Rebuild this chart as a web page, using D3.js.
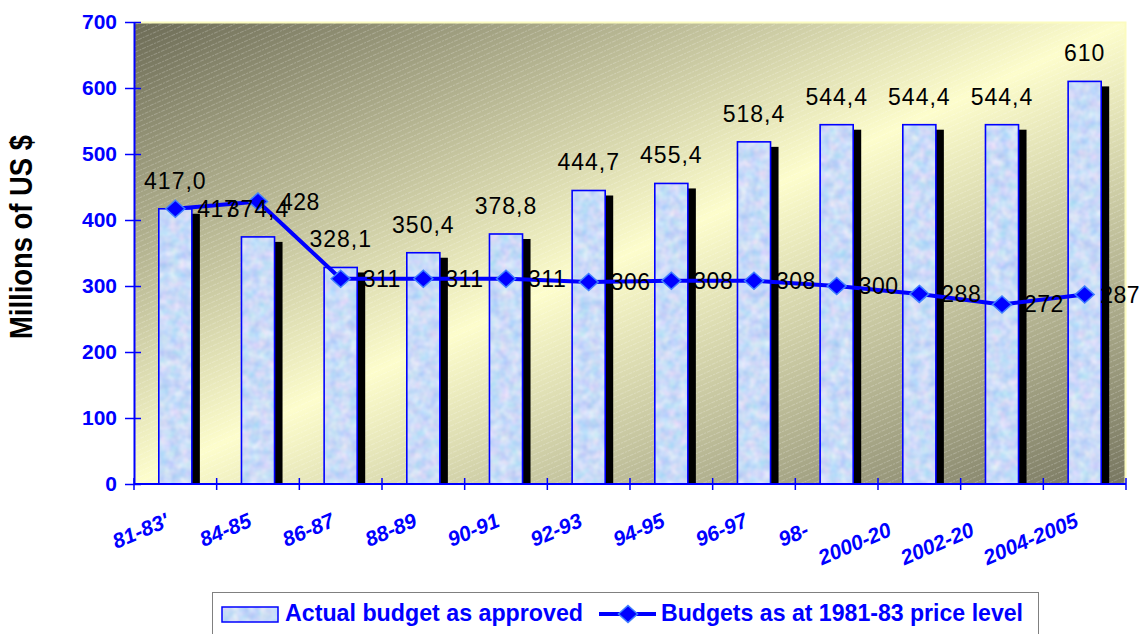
<!DOCTYPE html>
<html>
<head>
<meta charset="utf-8">
<title>Budget chart</title>
<script src="https://d3js.org/d3.v7.min.js"></script>
<style>
  html, body { margin:0; padding:0; background:#fff; overflow:hidden }
  text { font-family: "Liberation Sans", Arial, sans-serif; }
</style>
</head>
<body>
<div class="chart"></div>
<script>

// periods as in the source; the picture cuts some of them short
var periods = ["81-83'", "84-85", "86-87", "88-89", "90-91", "92-93", "94-95", "96-97", "98-99", "2000-2001", "2002-2003", "2004-2005"];
var periodText = ["81-83'", "84-85", "86-87", "88-89", "90-91", "92-93", "94-95", "96-97", "98-", "2000-20", "2002-20", "2004-2005"];

var approved = [417.0, 374.4, 328.1, 350.4, 378.8, 444.7, 455.4, 518.4, 544.4, 544.4, 544.4, 610];
var approvedText = ["417,0", "374,4", "328,1", "350,4", "378,8", "444,7", "455,4", "518,4", "544,4", "544,4", "544,4", "610"];
var constantPrice = [417, 428, 311, 311, 311, 306, 308, 308, 300, 288, 272, 287];

var yTicks = [0, 100, 200, 300, 400, 500, 600, 700];

var W = 1142, H = 634;
var BLUE = "#0000ff";

var svg = d3.select("div.chart").append("svg")
    .attr("width", W)
    .attr("height", H);

var x = d3.scaleBand().domain(periods).range([134, 1126]);
var y = d3.scaleLinear().domain([0, 700]).range([484, 22]);
var cx = function(p) { return x(p) + x.bandwidth() / 2; };
var barW = x.bandwidth() * 0.4;

var defs = svg.append("defs");

// wall: dark corners, light band from bottom-left to top-right
var wall = defs.append("linearGradient").attr("id", "wall")
    .attr("x1", 0).attr("y1", 0).attr("x2", 1).attr("y2", 1);
wall.append("stop").attr("offset", 0).attr("stop-color", "#6c6b56");
wall.append("stop").attr("offset", 0.5).attr("stop-color", "#fdfdcc");
wall.append("stop").attr("offset", 1).attr("stop-color", "#777660");

var hatch = defs.append("pattern").attr("id", "hatch")
    .attr("patternUnits", "userSpaceOnUse")
    .attr("width", 8).attr("height", 5)
    .attr("patternTransform", "rotate(-24)");
hatch.append("line")
    .attr("x1", 0).attr("y1", 2.5).attr("x2", 8).attr("y2", 2.5)
    .attr("stroke", "#fff").attr("stroke-opacity", 0.22)
    .attr("stroke-dasharray", "2 1");

// mottled light blue fill for the bars
var mottle = defs.append("filter").attr("id", "mottle")
    .attr("x", 0).attr("y", 0).attr("width", 1).attr("height", 1)
    .attr("color-interpolation-filters", "sRGB");
mottle.append("feTurbulence").attr("type", "fractalNoise")
    .attr("baseFrequency", 0.1).attr("numOctaves", 2).attr("seed", 4).attr("result", "n");
mottle.append("feColorMatrix").attr("in", "n").attr("type", "matrix")
    .attr("values", "0.32 0 0 0 0.63  0.12 0.14 0 0 0.73  0 0 0.06 0 0.94  0 0 0 0 1")
    .attr("result", "c");
mottle.append("feComposite").attr("in", "c").attr("in2", "SourceGraphic").attr("operator", "in");

function diamond(w, h) {
  return "M0," + (-h) + "L" + w + ",0L0," + h + "L" + (-w) + ",0Z";
}

// plot wall
svg.append("rect")
    .attr("x", 134).attr("y", 22)
    .attr("width", 1126 - 134).attr("height", 484 - 22)
    .attr("fill", "url(#wall)");
svg.append("rect")
    .attr("x", 134).attr("y", 22)
    .attr("width", 1126 - 134).attr("height", 484 - 22)
    .attr("fill", "url(#hatch)");
svg.append("path")
    .attr("d", "M134,22.5H1125.5V484")
    .attr("fill", "none").attr("stroke", "#fbfbc0").attr("stroke-width", 2);

// bars: black shadow, textured body, blue edge
var bars = svg.append("g").selectAll("g").data(periods).join("g");

bars.append("rect")
    .attr("x", function(p) { return cx(p) - barW / 2 + 8; })
    .attr("y", function(p, i) { return y(approved[i]) + 5; })
    .attr("width", barW)
    .attr("height", function(p, i) { return y(0) - y(approved[i]) - 5; })
    .attr("fill", "#000");

bars.append("rect")
    .attr("x", function(p) { return cx(p) - barW / 2; })
    .attr("y", function(p, i) { return y(approved[i]); })
    .attr("width", barW)
    .attr("height", function(p, i) { return y(0) - y(approved[i]); })
    .attr("fill", "#cfe0fa")
    .attr("filter", "url(#mottle)");

bars.append("rect")
    .attr("x", function(p) { return cx(p) - barW / 2; })
    .attr("y", function(p, i) { return y(approved[i]); })
    .attr("width", barW)
    .attr("height", function(p, i) { return y(0) - y(approved[i]); })
    .attr("fill", "none")
    .attr("stroke", BLUE).attr("stroke-width", 1.6);

// axes
var yAxis = svg.append("g")
    .attr("transform", "translate(134,0)")
    .call(d3.axisLeft(y).tickValues(yTicks).tickSizeInner(9).tickSizeOuter(0).tickPadding(8));
yAxis.select(".domain").attr("stroke", BLUE).attr("stroke-width", 2);
yAxis.selectAll(".tick line").attr("x1", 7).attr("stroke", BLUE).attr("stroke-width", 1.5);
yAxis.selectAll(".tick text")
    .attr("fill", BLUE)
    .style("font-size", "21px").style("font-weight", "bold")
    .style("font-family", "'Liberation Sans', Arial, sans-serif");

var xTickPos = periods.map(function(p) { return x(p); }).concat([x.range()[1]]);
svg.append("line")
    .attr("x1", 134).attr("x2", 1126).attr("y1", y(0)).attr("y2", y(0))
    .attr("stroke", BLUE).attr("stroke-width", 2);
svg.append("g").selectAll("line").data(xTickPos).join("line")
    .attr("x1", function(d) { return d; }).attr("x2", function(d) { return d; })
    .attr("y1", y(0) - 6).attr("y2", y(0) + 6)
    .attr("stroke", BLUE).attr("stroke-width", 1.5);

// slanted period labels (anchored as if the full text were shown)
var deg = 23, ang = deg * Math.PI / 180;
var xLab = svg.append("g").attr("fill", BLUE)
    .style("font-size", "21px").style("font-weight", "bold").style("font-style", "italic");
var probe = xLab.append("text").attr("x", -500).attr("y", -500);
periods.forEach(function(p, i) {
  probe.text(p);
  var fw = probe.node().getComputedTextLength();
  var ex = cx(p) - 5, ey = 526;
  var sx = ex - fw * Math.cos(ang), sy = ey + fw * Math.sin(ang);
  xLab.append("text")
      .attr("transform", "translate(" + sx + "," + sy + ") rotate(" + (-deg) + ")")
      .text(periodText[i]);
});
probe.remove();

// price-level line
var line = d3.line()
    .x(function(d, i) { return cx(periods[i]); })
    .y(function(d) { return y(d); });

svg.append("path")
    .datum(constantPrice)
    .attr("d", line)
    .attr("fill", "none")
    .attr("stroke", BLUE).attr("stroke-width", 4)
    .attr("stroke-linejoin", "round");

svg.append("g").selectAll("path").data(constantPrice).join("path")
    .attr("transform", function(d, i) { return "translate(" + cx(periods[i]) + "," + y(d) + ")"; })
    .attr("d", diamond(9.5, 8.5))
    .attr("fill", BLUE).attr("stroke", "#3f7fff").attr("stroke-width", 1.5);

// value labels
svg.append("g").selectAll("text").data(approvedText).join("text")
    .attr("x", function(d, i) { return cx(periods[i]); })
    .attr("y", function(d, i) { return y(approved[i]) - 20; })
    .attr("text-anchor", "middle")
    .style("font-size", "23px").style("letter-spacing", "1px")
    .text(function(d) { return d; });

// line labels sit right of the marker, pulled back if they would leave the page
svg.append("g").selectAll("text").data(constantPrice).join("text")
    .attr("y", function(d) { return y(d) + 8; })
    .style("font-size", "23px").style("letter-spacing", "0.5px")
    .text(d3.format("d"))
    .attr("x", function(d, i) {
      var tw = this.getComputedTextLength();
      return Math.min(cx(periods[i]) + 22, W - 2 - tw);
    });

// y title
svg.append("text")
    .attr("transform", "translate(32,237) rotate(-90)")
    .attr("text-anchor", "middle")
    .attr("textLength", 204).attr("lengthAdjust", "spacingAndGlyphs")
    .style("font-size", "31px").style("font-weight", "bold")
    .style("font-family", "'Liberation Sans Narrow', 'Liberation Sans', Arial, sans-serif")
    .text("Millions of US $");

// legend
var lg = svg.append("g");
lg.append("rect")
    .attr("x", 212.5).attr("y", 592.5).attr("width", 826).attr("height", 60)
    .attr("fill", "#fff").attr("stroke", "#808080");
lg.append("rect")
    .attr("x", 222).attr("y", 607).attr("width", 56).attr("height", 15)
    .attr("fill", "#cfe0fa").attr("filter", "url(#mottle)");
lg.append("rect")
    .attr("x", 222).attr("y", 607).attr("width", 56).attr("height", 15)
    .attr("fill", "none").attr("stroke", BLUE).attr("stroke-width", 1.5);
lg.append("text")
    .attr("x", 285).attr("y", 621)
    .attr("textLength", 298).attr("lengthAdjust", "spacingAndGlyphs")
    .attr("fill", BLUE)
    .style("font-size", "24px").style("font-weight", "bold")
    .text("Actual budget as approved");
lg.append("line")
    .attr("x1", 599).attr("x2", 656).attr("y1", 614).attr("y2", 614)
    .attr("stroke", BLUE).attr("stroke-width", 4);
lg.append("path")
    .attr("transform", "translate(628,614)")
    .attr("d", diamond(9.5, 8.5))
    .attr("fill", BLUE).attr("stroke", "#3f7fff").attr("stroke-width", 1.5);
lg.append("text")
    .attr("x", 661).attr("y", 621)
    .attr("textLength", 362).attr("lengthAdjust", "spacingAndGlyphs")
    .attr("fill", BLUE)
    .style("font-size", "24px").style("font-weight", "bold")
    .text("Budgets as at 1981-83 price level");

</script>
</body>
</html>
